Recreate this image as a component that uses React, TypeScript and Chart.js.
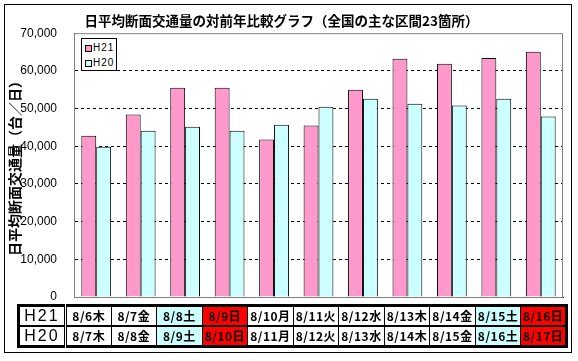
import React, { useEffect, useRef } from 'react';
import { Chart, registerables } from 'chart.js';

Chart.register(...registerables);

const categories = ['8/6', '8/7', '8/8', '8/9', '8/10', '8/11', '8/12', '8/13', '8/14', '8/15', '8/16'];
const h21Values = [42800, 48400, 55500, 55500, 41800, 45500, 55000, 63200, 61900, 63400, 65100];
const h20Values = [39900, 44100, 45200, 44100, 45700, 50500, 52600, 51300, 50800, 52600, 47900];
const h21Days = ['8/6木', '8/7金', '8/8土', '8/9日', '8/10月', '8/11火', '8/12水', '8/13木', '8/14金', '8/15土', '8/16日'];
const h20Days = ['8/7木', '8/8金', '8/9土', '8/10日', '8/11月', '8/12火', '8/13水', '8/14木', '8/15金', '8/16土', '8/17日'];
const dayKinds = ['w', 'w', 'sat', 'sun', 'w', 'w', 'w', 'w', 'w', 'sat', 'sun'];
const seriesNames = ['H21', 'H20'];
const yMax = 70000;
const yStep = 10000;

const titleText = '日平均断面交通量の対前年比較グラフ（全国の主な区間23箇所）';
const yTitleText = '日平均断面交通量（台／日）';

const PINK = '#FF99CC';
const CYAN = '#CCFFFF';
const kindColor: Record<string, string> = { w: '#FFFFFF', sat: CYAN, sun: '#FF0000' };

const plotBorder = {
  id: 'plotBorder',
  beforeDatasetsDraw(chart: any) {
    const { ctx, chartArea } = chart;
    ctx.save();
    ctx.strokeStyle = '#808080';
    ctx.lineWidth = 1;
    ctx.strokeRect(chartArea.left + 0.5, chartArea.top + 0.5, chartArea.right - chartArea.left - 1, chartArea.bottom - chartArea.top);
    ctx.restore();
  },
};

export default function App() {
  const ref = useRef<HTMLCanvasElement | null>(null);

  useEffect(() => {
    if (!ref.current) return;
    const chart = new Chart(ref.current, {
      type: 'bar',
      data: {
        labels: categories,
        datasets: [
          {
            label: seriesNames[0],
            data: h21Values,
            backgroundColor: PINK,
            borderColor: '#000',
            borderWidth: 1,
            categoryPercentage: 0.67,
            barPercentage: 1,
          },
          {
            label: seriesNames[1],
            data: h20Values,
            backgroundColor: CYAN,
            borderColor: '#000',
            borderWidth: 1,
            categoryPercentage: 0.67,
            barPercentage: 1,
          },
        ],
      },
      options: {
        responsive: false,
        animation: false,
        layout: { padding: { top: 0, right: 15, bottom: 64, left: 0 } },
        plugins: {
          legend: { display: false },
          tooltip: { enabled: false },
          title: {
            display: true,
            text: titleText,
            color: '#000',
            font: { family: '"Noto Sans CJK JP"', size: 13.5, weight: 'bold', lineHeight: 1.2 },
            padding: { top: 13, bottom: 4 },
          },
        },
        scales: {
          x: {
            grid: { display: false, drawTicks: false },
            ticks: { display: false },
            border: { display: true, color: '#000', width: 1 },
          },
          y: {
            min: 0,
            max: yMax,
            afterFit: (s: any) => {
              s.width = 74;
            },
            ticks: {
              stepSize: yStep,
              padding: 17,
              color: '#000',
              font: { family: '"Liberation Sans"', size: 12 },
              callback: (v: any) => Number(v).toLocaleString('en-US'),
            },
            grid: {
              drawTicks: false,
              color: (c: any) => (c.tick && (c.tick.value === 0 || c.tick.value === yMax) ? 'rgba(0,0,0,0)' : '#000'),
              lineWidth: 1,
            },
            border: { display: true, color: '#000', width: 1, dash: [3, 3] },
            title: {
              display: true,
              text: yTitleText,
              color: '#000',
              font: { family: '"Noto Sans CJK JP"', size: 14, weight: 'bold', lineHeight: 1.2 },
              padding: { top: 6, bottom: 0 },
            },
          },
        },
      },
      plugins: [plotBorder],
    });
    return () => chart.destroy();
  }, []);

  const tdBase: React.CSSProperties = {
    border: '1px solid #000',
    padding: 0,
    textAlign: 'center',
    verticalAlign: 'middle',
    fontFamily: '"Noto Sans CJK JP"',
    fontWeight: 'bold',
    fontSize: 12,
    letterSpacing: 0.5,
    whiteSpace: 'nowrap',
    overflow: 'hidden',
    height: 18,
    lineHeight: '18px',
  };
  const headBase: React.CSSProperties = {
    ...tdBase,
    fontFamily: '"Liberation Sans"',
    fontWeight: 'normal',
    fontSize: 16,
    letterSpacing: 2,
    borderRight: '3px double #000',
  };

  const renderRow = (name: string, days: string[], idx: number) => (
    <tr key={name} style={{ borderBottom: idx === 0 ? '2px solid #000' : undefined }}>
      <td style={headBase}>{name}</td>
      {days.map((d, i) => (
        <td key={i} style={{ ...tdBase, background: kindColor[dayKinds[i]] }}>
          {d}
        </td>
      ))}
    </tr>
  );

  return (
    <div style={{ position: 'absolute', left: 0, top: 0, width: 578, height: 361, background: '#fff' }}>
      <div
        style={{
          position: 'absolute',
          left: 4,
          top: 4,
          width: 568,
          height: 349,
          border: '1px solid #000',
          boxSizing: 'border-box',
        }}
      />
      <canvas ref={ref} width={578} height={361} style={{ position: 'absolute', left: 0, top: 0, width: 578, height: 361 }} />
      <div
        style={{
          position: 'absolute',
          left: 81,
          top: 38,
          width: 36,
          height: 33,
          border: '1px solid #000',
          boxSizing: 'border-box',
          background: '#fff',
          fontFamily: '"Liberation Sans"',
          fontSize: 10,
          letterSpacing: 1,
        }}
      >
        {seriesNames.map((n, i) => (
          <div key={n} style={{ position: 'absolute', left: 3, top: 3 + i * 15, height: 12, lineHeight: '12px', whiteSpace: 'nowrap' }}>
            <span
              style={{
                display: 'inline-block',
                width: 7,
                height: 7,
                border: '1px solid #000',
                background: i === 0 ? PINK : CYAN,
                marginRight: 1,
                verticalAlign: 'middle',
                boxSizing: 'border-box',
              }}
            />
            <span style={{ verticalAlign: 'middle' }}>{n}</span>
          </div>
        ))}
      </div>
      <table
        style={{
          position: 'absolute',
          left: 17,
          top: 304,
          width: 551,
          borderCollapse: 'collapse',
          border: '3px solid #000',
          tableLayout: 'fixed',
        }}
      >
        <colgroup>
          <col style={{ width: 47 }} />
          {categories.map((c) => (
            <col key={c} />
          ))}
        </colgroup>
        <tbody>
          {renderRow(seriesNames[0], h21Days, 0)}
          {renderRow(seriesNames[1], h20Days, 1)}
        </tbody>
      </table>
    </div>
  );
}
